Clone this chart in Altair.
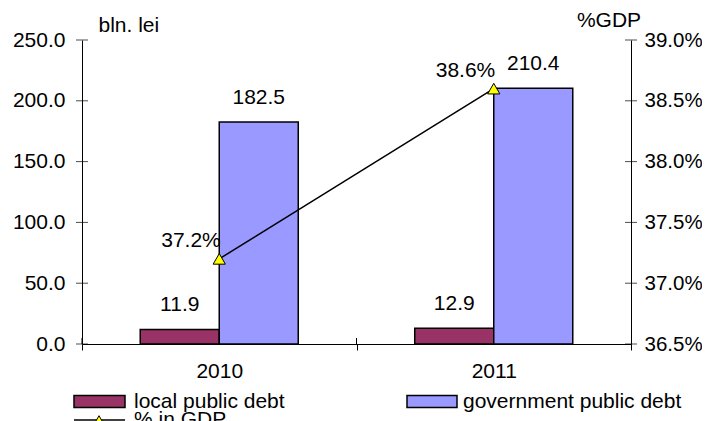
import altair as alt
import pandas as pd

# ---- data ----
years = ["2010", "2011"]
series = ["local public debt", "government public debt"]
local_debt = [11.9, 12.9]
gov_debt = [182.5, 210.4]
pct_gdp = [0.372, 0.386]
left_ticks = [0.0, 50.0, 100.0, 150.0, 200.0, 250.0]
right_ticks = [0.365, 0.370, 0.375, 0.380, 0.385, 0.390]
line_label = "% in GDP"
left_title = "bln. lei"
right_title = "%GDP"

colors = ["#993366", "#9999FF"]
FONT = "Liberation Sans"
FS = 21
W, H = 549, 304

bars_df = pd.DataFrame(
    [{"year": y, "series": series[0], "value": v} for y, v in zip(years, local_debt)]
    + [{"year": y, "series": series[1], "value": v} for y, v in zip(years, gov_debt)]
)
line_df = pd.DataFrame({"year": years, "pct": pct_gdp})
lt_df = pd.DataFrame({"v": left_ticks})
rt_df = pd.DataFrame({"v": right_ticks})
yr_df = pd.DataFrame({"year": years})

xscale = alt.Scale(domain=years, paddingInner=0, paddingOuter=0)
xoff = alt.XOffset("series:N", sort=series, scale=alt.Scale(domain=series, paddingInner=0, paddingOuter=0.737))
yl = alt.Scale(domain=[0, 250], nice=False, zero=True)
yr = alt.Scale(domain=[0.365, 0.39], nice=False, zero=False)

x_axis = alt.Axis(
    title=None, labelFont=FONT, labelFontSize=FS, labelColor="black", labelAngle=0,
    domainColor="black", domainWidth=1, tickColor="black", tickSize=6, tickBand="extent",
    labelPadding=10, grid=False,
)
left_axis = alt.Axis(
    title=left_title, titleAngle=0, titleAlign="left", titleBaseline="middle",
    titleX=16, titleY=-15, titleFont=FONT, titleFontSize=FS, titleFontWeight="normal",
    titleColor="black", values=left_ticks, format=".1f", labelFont=FONT, labelFontSize=FS,
    labelColor="black", ticks=False, tickSize=0, labelPadding=17, domainColor="black",
    domainWidth=1, grid=False)
right_axis = alt.Axis(
    orient="right", title=right_title, titleAngle=0, titleAlign="center", titleBaseline="middle",
    titleX=-22.5, titleY=-20, titleFont=FONT, titleFontSize=FS, titleFontWeight="normal",
    titleColor="black", values=right_ticks, format=".1%", labelFont=FONT, labelFontSize=20.5,
    labelColor="black", ticks=False, tickSize=0, labelPadding=13, domainColor="black",
    domainWidth=1, grid=False)

X = alt.X("year:N", scale=xscale, axis=x_axis, sort=years)

bars = alt.Chart(bars_df).mark_bar(stroke="black", strokeWidth=1.5, opacity=1).encode(
    x=X,
    xOffset=xoff,
    y=alt.Y("value:Q", scale=yl, axis=left_axis, title=left_title),
    color=alt.Color("series:N", scale=alt.Scale(domain=series, range=colors), legend=None),
)

bar_labels = alt.Chart(bars_df).mark_text(
    font=FONT, fontSize=FS, color="black", baseline="alphabetic", dy=-18.5
).encode(
    x=X,
    xOffset=xoff,
    y=alt.Y("value:Q", scale=yl, axis=left_axis, title=left_title),
    text=alt.Text("value:Q", format=".1f"),
)

left_tick_marks = alt.Chart(lt_df).mark_tick(orient="horizontal", color="black", size=12, thickness=1).encode(
    x=alt.value(0), y=alt.Y("v:Q", scale=yl, axis=left_axis, title=left_title)
)

x_tick_marks = alt.Chart(yr_df).mark_rule(color="black", strokeWidth=1).encode(
    x=alt.X("year:N", scale=xscale, sort=years, bandPosition=0, axis=x_axis),
    y=alt.value(H - 6), y2=alt.value(H),
)

left_layer = alt.layer(bars, bar_labels, left_tick_marks, x_tick_marks)

line = alt.Chart(line_df).mark_line(color="black", strokeWidth=1.5).encode(
    x=X,
    y=alt.Y("pct:Q", scale=yr, axis=right_axis, title=right_title),
)

pts = alt.Chart(line_df).mark_point(shape="triangle-up", filled=True, fill="#FFFF00", stroke="black",
                                    strokeWidth=1, size=150, opacity=1).encode(
    x=X,
    y=alt.Y("pct:Q", scale=yr, axis=right_axis, title=right_title),
)

pt_labels = alt.Chart(line_df).mark_text(font=FONT, fontSize=FS, color="black", align="right",
                                         baseline="alphabetic", dx=1.5, dy=-11.5).encode(
    x=X,
    y=alt.Y("pct:Q", scale=yr, axis=right_axis, title=right_title),
    text=alt.Text("pct:Q", format=".1%"),
)

right_tick_marks = alt.Chart(rt_df).mark_tick(orient="horizontal", color="black", size=12, thickness=1).encode(
    x=alt.value(W), y=alt.Y("v:Q", scale=yr, axis=right_axis, title=right_title)
)

right_layer = alt.layer(line, pts, pt_labels, right_tick_marks)

# ---- manual legend ----
leg1 = pd.DataFrame({"label": [series[0]]})
leg2 = pd.DataFrame({"label": [series[1]]})
leg3 = pd.DataFrame({"label": [line_label]})

def swatch(df, x0, x1, yc, color):
    return alt.Chart(df).mark_rect(fill=color, stroke="black", strokeWidth=1.5).encode(
        x=alt.value(x0), x2=alt.value(x1), y=alt.value(yc - 6), y2=alt.value(yc + 6))

def label(df, x0, yc):
    return alt.Chart(df).mark_text(font=FONT, fontSize=FS, color="black", align="left",
                                   baseline="middle").encode(
        x=alt.value(x0), y=alt.value(yc), text="label:N")

R1, R2 = H + 57.5, H + 76
legend = alt.layer(
    swatch(leg1, -8, 43, R1, colors[0]), label(leg1, 52, R1),
    swatch(leg2, 325, 375, R1, colors[1]), label(leg2, 381, R1),
    alt.Chart(leg3).mark_rule(color="black", strokeWidth=1.5).encode(
        x=alt.value(-8), x2=alt.value(43), y=alt.value(R2)),
    alt.Chart(leg3).mark_point(shape="triangle-up", filled=True, fill="#FFFF00", stroke="black",
                               strokeWidth=1, size=150, opacity=1).encode(
        x=alt.value(17), y=alt.value(R2 + 1)),
    label(leg3, 52, R2),
)

chart = alt.layer(left_layer, right_layer, legend).resolve_scale(y="independent").properties(
    width=W, height=H,
    autosize=alt.AutoSizeParams(type="none"),
    padding={"left": 74, "top": 32, "right": 71, "bottom": 77},
    background="white",
).configure_view(stroke=None)

chart.save("out.html", embed_options={"renderer": "svg", "actions": False})
